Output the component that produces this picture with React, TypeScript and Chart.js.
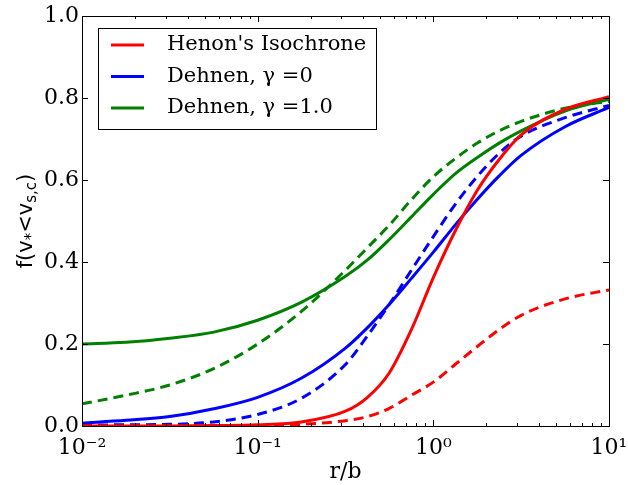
import React, { useEffect, useRef } from "react";
import { Chart, registerables } from "chart.js";

Chart.register(...registerables);

// r/b sample positions (log-spaced)
const radii = [0.01, 0.0178, 0.0316, 0.0562, 0.1, 0.178, 0.316, 0.422, 0.562, 0.75, 1.0, 1.33, 1.78, 2.37, 3.16, 5.62, 10];

const henonSolid = [0, 0, 0, 0.001, 0.003, 0.01, 0.036, 0.07, 0.13, 0.235, 0.362, 0.475, 0.575, 0.65, 0.71, 0.772, 0.803];
const henonDashed = [0, 0, 0, 0, 0.001, 0.004, 0.013, 0.023, 0.043, 0.075, 0.107, 0.15, 0.194, 0.235, 0.27, 0.31, 0.332];
const dehnen0Solid = [0.007, 0.014, 0.023, 0.042, 0.07, 0.117, 0.19, 0.24, 0.297, 0.36, 0.424, 0.49, 0.553, 0.61, 0.66, 0.73, 0.777];
const dehnen0Dashed = [0.002, 0.003, 0.004, 0.01, 0.028, 0.068, 0.15, 0.22, 0.297, 0.38, 0.462, 0.54, 0.609, 0.665, 0.707, 0.752, 0.782];
const dehnen1Solid = [0.2, 0.204, 0.214, 0.229, 0.258, 0.302, 0.365, 0.405, 0.455, 0.51, 0.565, 0.615, 0.655, 0.69, 0.72, 0.768, 0.797];
const dehnen1Dashed = [0.054, 0.075, 0.1, 0.14, 0.2, 0.28, 0.38, 0.435, 0.49, 0.552, 0.608, 0.652, 0.69, 0.72, 0.743, 0.775, 0.792];

const seriesLabels = ["Henon's Isochrone", "Dehnen, γ =0", "Dehnen, γ =1.0"];
const seriesColors = ["#ff0000", "#0000ff", "#008000"];

const xTickValues = [
  0.01, 0.02, 0.03, 0.04, 0.05, 0.06, 0.07, 0.08, 0.09,
  0.1, 0.2, 0.3, 0.4, 0.5, 0.6, 0.7, 0.8, 0.9,
  1, 2, 3, 4, 5, 6, 7, 8, 9, 10,
];
const xMajorValues = [0.01, 0.1, 1, 10];
const xMajorLabels = ["10⁻²", "10⁻¹", "10⁰", "10¹"];
const xTitle = "r/b";
const yTitleParts = [
  { t: "f(v", sub: false },
  { t: "*", sub: true },
  { t: "<v", sub: false },
  { t: "s,c", sub: true },
  { t: ")", sub: false },
];

const SERIF = "'DejaVu Serif', serif";
const SANS = "'DejaVu Sans', sans-serif";

const isMajor = (v: number) => xMajorValues.some((m) => Math.abs(m - v) / m < 1e-6);

const framePlugin = {
  id: "frame",
  afterDatasetsDraw(chart: any) {
    const { ctx, chartArea: a, scales } = chart;
    const xs = scales.x;
    const ys = scales.y;
    ctx.save();
    ctx.strokeStyle = "#000";
    ctx.lineWidth = 1;
    ctx.beginPath();
    for (const t of xs.ticks) {
      const px = Math.round(xs.getPixelForValue(t.value)) + 0.5;
      const len = isMajor(t.value) ? 6 : 3;
      ctx.moveTo(px, a.bottom);
      ctx.lineTo(px, a.bottom - len);
      ctx.moveTo(px, a.top);
      ctx.lineTo(px, a.top + len);
    }
    for (const t of ys.ticks) {
      const py = Math.round(ys.getPixelForValue(t.value)) + 0.5;
      ctx.moveTo(a.left, py);
      ctx.lineTo(a.left + 6, py);
      ctx.moveTo(a.right, py);
      ctx.lineTo(a.right - 6, py);
    }
    ctx.stroke();
    ctx.strokeRect(Math.round(a.left) + 0.5, Math.round(a.top) + 0.5, Math.round(a.right - a.left), Math.round(a.bottom - a.top));

    // legend
    const lx = 98, ly = 28, lw = 278, lh = 101;
    ctx.fillStyle = "#fff";
    ctx.fillRect(lx, ly, lw, lh);
    ctx.strokeStyle = "#000";
    ctx.strokeRect(lx + 0.5, ly + 0.5, lw, lh);
    ctx.font = `21px ${SERIF}`;
    ctx.textBaseline = "middle";
    ctx.textAlign = "left";
    seriesLabels.forEach((lab, i) => {
      const yy = 45 + i * 31.5;
      ctx.strokeStyle = seriesColors[i];
      ctx.lineWidth = 3;
      ctx.beginPath();
      ctx.moveTo(111, yy);
      ctx.lineTo(144, yy);
      ctx.stroke();
      ctx.fillStyle = "#000";
      ctx.fillText(lab, 167, yy);
    });

    // y title with subscripts
    const big = `21px ${SANS}`;
    const small = `15px ${SANS}`;
    let total = 0;
    const widths = yTitleParts.map((p) => {
      ctx.font = p.sub ? small : big;
      const w = ctx.measureText(p.t).width;
      total += w;
      return w;
    });
    ctx.translate(25, 221);
    ctx.rotate(-Math.PI / 2);
    let x = -total / 2;
    ctx.fillStyle = "#000";
    ctx.textBaseline = "alphabetic";
    yTitleParts.forEach((p, i) => {
      ctx.font = p.sub ? small : big;
      ctx.fillText(p.t, x, p.sub ? 11 : 7);
      x += widths[i];
    });
    ctx.restore();
  },
};

function ds(label: string, data: any[], color: string, dashed: boolean) {
  return {
    label,
    data,
    borderColor: color,
    backgroundColor: color,
    borderWidth: 3,
    borderDash: dashed ? [10, 6] : [],
    pointRadius: 0,
    fill: false,
    cubicInterpolationMode: "monotone" as const,
    clip: 0,
  };
}

export default function App() {
  const ref = useRef<HTMLCanvasElement | null>(null);
  useEffect(() => {
    if (!ref.current) return;
    const points = (arr: number[]) => arr.map((y, i) => ({ x: radii[i], y }));
    const chart = new Chart(ref.current, {
      type: "line",
      data: {
        datasets: [
          ds(seriesLabels[0], points(henonSolid), seriesColors[0], false),
          ds(seriesLabels[0] + " (dashed)", points(henonDashed), seriesColors[0], true),
          ds(seriesLabels[1], points(dehnen0Solid), seriesColors[1], false),
          ds(seriesLabels[1] + " (dashed)", points(dehnen0Dashed), seriesColors[1], true),
          ds(seriesLabels[2], points(dehnen1Solid), seriesColors[2], false),
          ds(seriesLabels[2] + " (dashed)", points(dehnen1Dashed), seriesColors[2], true),
        ] as any,
      },
      options: {
        animation: false,
        responsive: false,
        devicePixelRatio: 1,
        layout: { padding: { left: 0, right: 19, top: 16, bottom: 0 } },
        plugins: { legend: { display: false }, tooltip: { enabled: false } },
        scales: {
          x: {
            type: "logarithmic",
            min: 0.01,
            max: 10,
            afterBuildTicks: (s: any) => {
              s.ticks = xTickValues.map((v) => ({ value: v }));
            },
            afterFit: (s: any) => {
              s.height = 59;
              s.paddingLeft = 0;
              s.paddingRight = 0;
            },
            ticks: {
              autoSkip: false,
              maxRotation: 0,
              minRotation: 0,
              padding: 9,
              color: "#000",
              font: { family: SERIF, size: 22 },
              callback: (v: any) => {
                const idx = xMajorValues.findIndex((m) => Math.abs(m - Number(v)) / m < 1e-6);
                return idx >= 0 ? xMajorLabels[idx] : "";
              },
            },
            grid: { display: true, drawOnChartArea: false, drawTicks: false },
            border: { display: true, color: "#000", width: 1 },
            title: {
              display: true,
              text: xTitle,
              color: "#000",
              font: { family: SERIF, size: 22 },
              padding: { top: 0, bottom: 0 },
            },
          },
          y: {
            type: "linear",
            min: 0,
            max: 1,
            afterFit: (s: any) => {
              s.width = 82;
              s.paddingTop = 0;
              s.paddingBottom = 0;
            },
            ticks: {
              stepSize: 0.2,
              padding: 3,
              color: "#000",
              font: { family: SERIF, size: 22 },
              callback: (v: any) => Number(v).toFixed(1),
            },
            grid: { display: true, drawOnChartArea: false, drawTicks: false },
            border: { display: true, color: "#000", width: 1 },
          },
        },
      },
      plugins: [framePlugin],
    } as any);
    return () => chart.destroy();
  }, []);
  return (
    <div style={{ position: "absolute", left: 0, top: 0, width: 628, height: 485, background: "#fff" }}>
      <canvas ref={ref} width={628} height={485} style={{ width: 628, height: 485, display: "block" }} />
    </div>
  );
}
